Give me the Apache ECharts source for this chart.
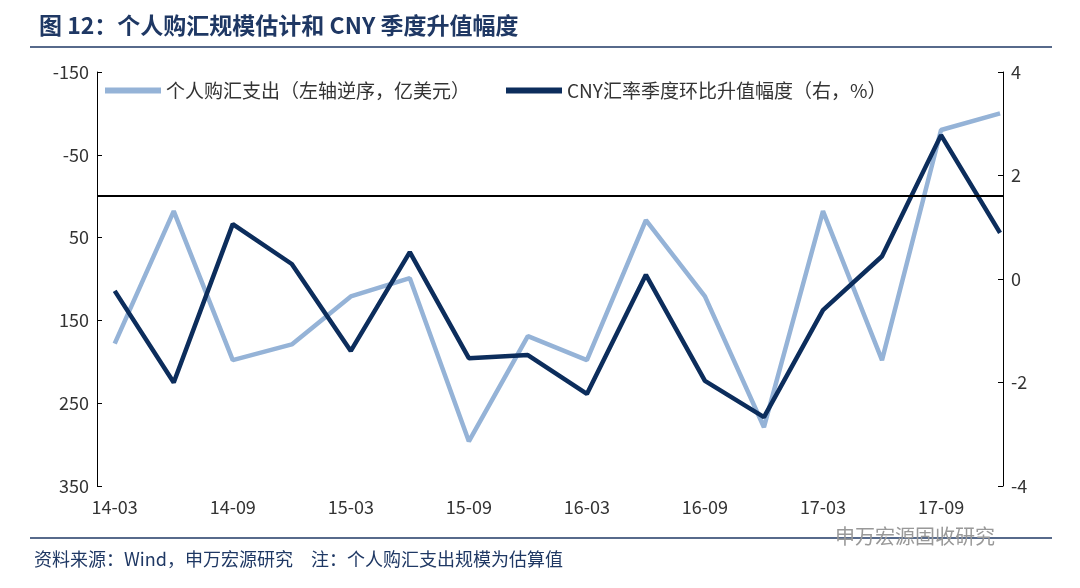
<!DOCTYPE html>
<html><head><meta charset="utf-8">
<script src="https://cdn.jsdelivr.net/npm/echarts@6/dist/echarts.min.js"></script>
<style>body{margin:0}#chart{width:1080px;height:588px}</style>
</head><body><div id="chart"></div>
<script>
var categories = ['14-03','14-06','14-09','14-12','15-03','15-06','15-09','15-12','16-03','16-06','16-09','16-12','17-03','17-06','17-09','17-12'];
var fxPurchase = [178, 18, 198, 179, 121, 99, 296, 169, 198, 29, 121, 279, 18, 198, -80, -100];
var cnyChange = [-0.23, -2.0, 1.06, 0.29, -1.39, 0.52, -1.53, -1.47, -2.22, 0.08, -1.97, -2.67, -0.6, 0.44, 2.78, 0.89];
var labelIdx = [0, 2, 4, 6, 8, 10, 12, 14];

var chart = echarts.init(document.getElementById('chart'));
var font = '"Noto Sans CJK SC", "Noto Sans", sans-serif';

var option = {
    textStyle: { fontFamily: font },
    title: {
        text: '图 12：个人购汇规模估计和 CNY 季度升值幅度',
        left: 34, top: 9,
        textStyle: { color: '#1F3864', fontSize: 23, fontWeight: 'bold', fontFamily: font }
    },
    graphic: [
        { type: 'line', shape: { x1: 30, y1: 47, x2: 1052, y2: 47 }, style: { stroke: '#1F3864', lineWidth: 1.5 } },
        { type: 'line', shape: { x1: 30, y1: 538, x2: 1052, y2: 538 }, style: { stroke: '#1F3864', lineWidth: 1.5 } },
        { type: 'text', left: 34, top: 550, style: { text: '资料来源：Wind，申万宏源研究　注：个人购汇支出规模为估算值', fill: '#1F3864', font: '18px ' + font } },
        { type: 'text', left: 835, top: 526, style: { text: '申万宏源固收研究', fill: '#999', font: '20px ' + font } }
    ],
    legend: {
        top: 76, left: 100, itemWidth: 56, itemHeight: 6, itemGap: 36,
        icon: 'rect',
        textStyle: { fontSize: 19, color: '#333' },
        data: ['个人购汇支出（左轴逆序，亿美元）', 'CNY汇率季度环比升值幅度（右，%）']
    },
    grid: { left: 97, right: 77, top: 72, bottom: 102 },
    xAxis: {
        type: 'value', min: -0.3, max: 15.05,
        splitLine: { show: false },
        axisLine: { show: false },
        axisTick: { show: false },
        axisLabel: {
            customValues: labelIdx, fontSize: 18, color: '#333', margin: 12,
            formatter: function (v) { return categories[Math.round(v)]; }
        }
    },
    yAxis: [
        {
            type: 'value', inverse: true, min: -150, max: 350, interval: 100,
            splitLine: { show: false },
            axisLine: { show: true, onZero: false, lineStyle: { color: '#000' } },
            axisTick: { show: true, inside: true },
            axisLabel: { fontSize: 18, color: '#333' }
        },
        {
            type: 'value', min: -4, max: 4, interval: 2,
            splitLine: { show: false },
            axisLine: { show: true, onZero: false, lineStyle: { color: '#000' } },
            axisTick: { show: true, inside: true },
            axisLabel: { fontSize: 18, color: '#333' }
        }
    ],
    series: [
        {
            name: '个人购汇支出（左轴逆序，亿美元）', type: 'line', yAxisIndex: 0,
            data: fxPurchase.map(function (v, i) { return [i, v]; }),
            symbol: 'none', lineStyle: { color: '#95B3D7', width: 4.5 }, itemStyle: { color: '#95B3D7' },
            markLine: {
                silent: true, symbol: 'none', label: { show: false },
                lineStyle: { color: '#000', width: 2, type: 'solid' },
                data: [{ yAxis: 0 }]
            }
        },
        {
            name: 'CNY汇率季度环比升值幅度（右，%）', type: 'line', yAxisIndex: 1,
            data: cnyChange.map(function (v, i) { return [i, v]; }),
            symbol: 'none', lineStyle: { color: '#0C2D5C', width: 4.5 }, itemStyle: { color: '#0C2D5C' }
        }
    ]
};
chart.setOption(option);
</script>
</body></html>
